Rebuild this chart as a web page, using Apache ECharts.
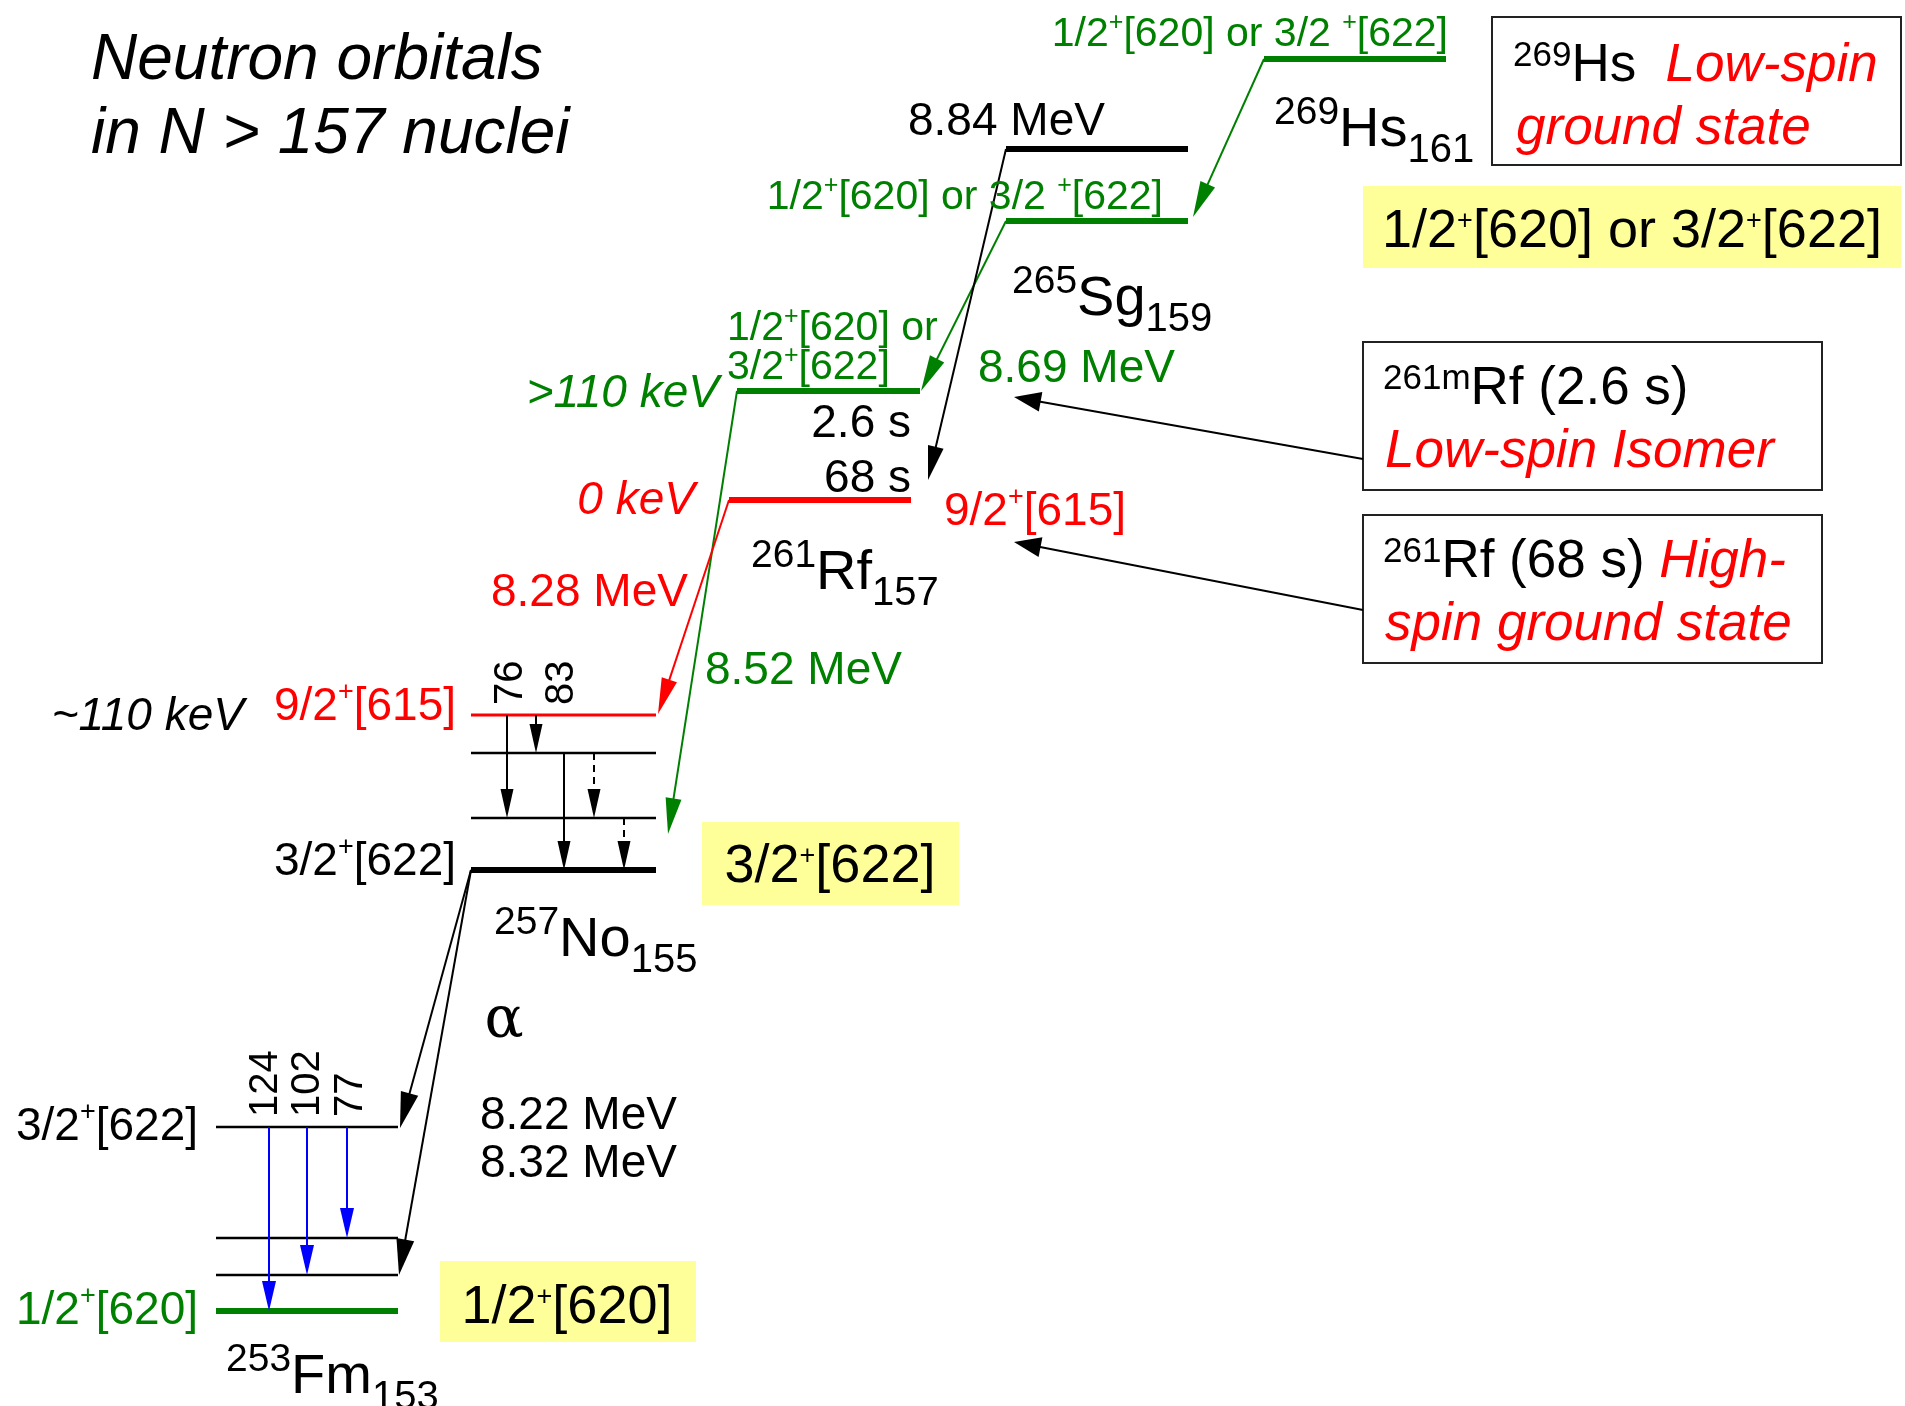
<!DOCTYPE html>
<html><head><meta charset="utf-8">
<script src="https://cdn.jsdelivr.net/npm/echarts@6/dist/echarts.min.js"></script>
<style>html,body{margin:0;padding:0;background:#fff}#c{width:1905px;height:1406px}</style>
</head><body><div id="c"></div>
<script>
// ================= DATA (diagram units: x = horizontal placement, y = vertical placement, downwards) =================
// Nuclear levels
const levelIds   = ['269Hs g.s.','265Sg 8.84','265Sg g.s.','261mRf','261Rf g.s.','257No 9/2+','257No l2','257No l1','257No g.s.','253Fm 3/2+','253Fm l2','253Fm l1','253Fm g.s.'];
const levelX1    = [1264,1006,1006,737,729,471,471,471,471,216,216,216,216];
const levelX2    = [1446,1188,1188,920,911,656,656,656,656,398,398,398,398];
const levelY     = [59,149,221,391,500,715,753,818,870,1127,1238,1275,1311];
const levelKind  = ['gThick','kThick','gThick','gThick','rThick','rThin','kThin','kThin','kThick','kThin','kThin','kThin','gThick'];

// Alpha decays (start point -> arrow tip)
const decayFromX = [1264,1006,1006,737,729,471,471];
const decayFromY = [59,221,149,391,500,870,870];
const decayToX   = [1193,921,928,668,658,400,399];
const decayToY   = [217,391,480,834,714,1128,1275];
const decayKind  = ['green','green','black','green','red','alpha','alpha'];

// Gamma transitions (keV label, x, from y, to y)
const gammaLabel = ['76','83','','','','124','102','77'];
const gammaX     = [507,536,564,594,624,269,307,347];
const gammaY1    = [715,715,753,753,818,1127,1127,1127];
const gammaY2    = [818,753,870,818,870,1311,1275,1238];
const gammaKind  = ['solid','solid','solid','dashed','dashed','blue','blue','blue'];

// Pointer arrows from the note boxes
const pointerFromX = [1363,1363];
const pointerFromY = [459,610];
const pointerToX   = [1014,1014];
const pointerToY   = [397,542];

// Boxes [x1,y1,x2,y2]
const frameBoxes  = [[1492,17,1901,165],[1363,342,1822,490],[1363,515,1822,663]];
const yellowBoxes = [[1363,186,1901,268],[702,822,959,905],[440,1261,696,1342]];

// ================= STYLES =================
const FONT = '"Liberation Sans", Arial, Helvetica, sans-serif';
const SERIF = '"DejaVu Serif", "Liberation Serif", serif';
const GREEN = '#008000', RED = '#ff0000', BLUE = '#0000ff', BLACK = '#000000', YELLOW = '#ffff99';

const levelStyle = {
  gThick: {c: GREEN, w: 6}, kThick: {c: BLACK, w: 6}, rThick: {c: RED, w: 6},
  rThin: {c: RED, w: 3}, kThin: {c: BLACK, w: 2.5}
};
const arrowStyle = {
  green: {c: GREEN, w: 2, L: 36, W: 8},
  red:   {c: RED, w: 2, L: 36, W: 8},
  black: {c: BLACK, w: 2, L: 34, W: 8},
  alpha: {c: BLACK, w: 2, L: 36, W: 9},
  solid: {c: BLACK, w: 2, L: 29, W: 6.5},
  dashed:{c: BLACK, w: 2, L: 29, W: 6.5, dash: [7, 5]},
  blue:  {c: BLUE, w: 2, L: 30, W: 7},
  pointer:{c: BLACK, w: 2, L: 27, W: 10}
};

function mkRich(size, color, o) {
  o = o || {};
  const it = o.italic ? 'italic' : 'normal';
  const fam = o.family || FONT;
  const lh = Math.round(size * 1.3);
  const supSize = o.supSize || Math.round(size * 0.6);
  const supOff = o.supOff != null ? o.supOff : Math.round(size * 0.3);
  const subSize = o.subSize || supSize;
  const subOff = o.subOff != null ? o.subOff : Math.round(size * 0.3);
  const hs = lh - 2 * supOff, hb = lh - 2 * subOff;
  return {
    n: {fontSize: size, fill: color, fontStyle: it, fontFamily: fam, lineHeight: lh},
    p: {fontSize: supSize, fill: color, fontStyle: it, fontFamily: fam, lineHeight: hs, height: hs, verticalAlign: 'top'},
    b: {fontSize: subSize, fill: color, fontStyle: it, fontFamily: fam, lineHeight: hb, height: hb, verticalAlign: 'bottom'},
    r: {fontSize: size, fill: RED, fontStyle: 'italic', fontFamily: fam, lineHeight: lh}
  };
}
const richSets = {
  title: mkRich(64, BLACK, {italic: true}),
  g40: mkRich(41, GREEN, {supSize: 25, supOff: 12}),
  g46: mkRich(46, GREEN, {supSize: 27, supOff: 14}),
  g46i: mkRich(46, GREEN, {italic: true}),
  r46: mkRich(46, RED, {supSize: 27, supOff: 14}),
  r46i: mkRich(46, RED, {italic: true}),
  k46: mkRich(46, BLACK, {supSize: 27, supOff: 14}),
  k46i: mkRich(46, BLACK, {italic: true}),
  k40: mkRich(40, BLACK),
  y54: mkRich(54, BLACK, {supSize: 27, supOff: 10}),
  nuc: mkRich(56, BLACK, {supSize: 39, supOff: 18, subSize: 40, subOff: 20}),
  box: mkRich(53, BLACK, {supSize: 35, supOff: 10}),
  alpha: mkRich(58, BLACK, {family: SERIF})
};

// Text annotations: [x, y, align, style, text, rotationDeg]
const texts = [
  [91, 61, 'left', 'title', '{n|Neutron orbitals}'],
  [91, 135, 'left', 'title', '{n|in N > 157 nuclei}'],
  [1448, 35, 'right', 'g40', '{n|1/2}{p|+}{n|[620] or 3/2 }{p|+}{n|[622]}'],
  [1274, 131, 'left', 'nuc', '{p|269}{n|Hs}{b|161}'],
  [908, 122, 'left', 'k46', '{n|8.84 MeV}'],
  [1163, 198, 'right', 'g40', '{n|1/2}{p|+}{n|[620] or 3/2 }{p|+}{n|[622]}'],
  [1012, 300, 'left', 'nuc', '{p|265}{n|Sg}{b|159}'],
  [978, 369, 'left', 'g46', '{n|8.69 MeV}'],
  [719, 394, 'right', 'g46i', '{n|>110 keV}'],
  [727, 329, 'left', 'g40', '{n|1/2}{p|+}{n|[620] or}'],
  [727, 368, 'left', 'g40', '{n|3/2}{p|+}{n|[622]}'],
  [911, 424, 'right', 'k46', '{n|2.6 s}'],
  [911, 479, 'right', 'k46', '{n|68 s}'],
  [695, 501, 'right', 'r46i', '{n|0 keV}'],
  [944, 512, 'left', 'r46', '{n|9/2}{p|+}{n|[615]}'],
  [751, 574, 'left', 'nuc', '{p|261}{n|Rf}{b|157}'],
  [491, 593, 'left', 'r46', '{n|8.28 MeV}'],
  [705, 671, 'left', 'g46', '{n|8.52 MeV}'],
  [244, 717, 'right', 'k46i', '{n|~110 keV}'],
  [456, 707, 'right', 'r46', '{n|9/2}{p|+}{n|[615]}'],
  [456, 862, 'right', 'k46', '{n|3/2}{p|+}{n|[622]}'],
  [830, 867, 'center', 'y54', '{n|3/2}{p|+}{n|[622]}'],
  [494, 941, 'left', 'nuc', '{p|257}{n|No}{b|155}'],
  [504, 1022, 'center', 'alpha', '{n|α}'],
  [480, 1116, 'left', 'k46', '{n|8.22 MeV}'],
  [480, 1164, 'left', 'k46', '{n|8.32 MeV}'],
  [198, 1127, 'right', 'k46', '{n|3/2}{p|+}{n|[622]}'],
  [198, 1311, 'right', 'g46', '{n|1/2}{p|+}{n|[620]}'],
  [567, 1308, 'center', 'y54', '{n|1/2}{p|+}{n|[620]}'],
  [226, 1378, 'left', 'nuc', '{p|253}{n|Fm}{b|153}'],
  [1513, 66, 'left', 'box', '{p|269}{n|Hs  }{r|Low-spin}'],
  [1516, 129, 'left', 'box', '{r|ground state}'],
  [1632, 232, 'center', 'y54', '{n|1/2}{p|+}{n|[620] or 3/2}{p|+}{n|[622]}'],
  [1383, 389, 'left', 'box', '{p|261m}{n|Rf (2.6 s)}'],
  [1385, 452, 'left', 'box', '{r|Low-spin Isomer}'],
  [1383, 562, 'left', 'box', '{p|261}{n|Rf (68 s) }{r|High-}'],
  [1385, 625, 'left', 'box', '{r|spin ground state}']
];
// gamma energy labels (rotated), anchored at their lower end
const gammaLabelY = [705, 705, 0, 0, 0, 1117, 1117, 1117];
const gammaLabelX = [511, 562, 0, 0, 0, 266, 308, 351];
gammaLabel.forEach(function (g, i) {
  if (g) texts.push([gammaLabelX[i], gammaLabelY[i], 'left', 'k40', '{n|' + g + '}', 90]);
});

// ================= RENDERING =================
function arrowGroup(p1, p2, st) {
  const dx = p2[0] - p1[0], dy = p2[1] - p1[1], len = Math.hypot(dx, dy);
  const ux = dx / len, uy = dy / len, nx = -uy, ny = ux;
  const bx = p2[0] - ux * st.L, by = p2[1] - uy * st.L;
  return {
    type: 'group',
    children: [
      {type: 'line', shape: {x1: p1[0], y1: p1[1], x2: bx + ux * 3, y2: by + uy * 3},
       style: {stroke: st.c, lineWidth: st.w, lineDash: st.dash || null, fill: null}},
      {type: 'polygon', shape: {points: [[p2[0], p2[1]], [bx + nx * st.W, by + ny * st.W], [bx - nx * st.W, by - ny * st.W]]},
       style: {fill: st.c, stroke: null}}
    ]
  };
}

const chart = echarts.init(document.getElementById('c'), null, {renderer: 'canvas'});
chart.setOption({
  animation: false,
  backgroundColor: '#ffffff',
  grid: {left: 0, right: 0, top: 0, bottom: 0},
  xAxis: {type: 'value', min: 0, max: 1905, show: false},
  yAxis: {type: 'value', min: 0, max: 1406, inverse: true, show: false},
  series: [
    { // yellow highlight boxes
      type: 'custom', silent: true,
      data: yellowBoxes,
      renderItem: function (params, api) {
        const a = api.coord([api.value(0), api.value(1)]), b = api.coord([api.value(2), api.value(3)]);
        return {type: 'rect', shape: {x: a[0], y: a[1], width: b[0] - a[0], height: b[1] - a[1]}, style: {fill: YELLOW, stroke: null}};
      }
    },
    { // framed note boxes
      type: 'custom', silent: true,
      data: frameBoxes,
      renderItem: function (params, api) {
        const a = api.coord([api.value(0), api.value(1)]), b = api.coord([api.value(2), api.value(3)]);
        return {type: 'rect', shape: {x: a[0], y: a[1], width: b[0] - a[0], height: b[1] - a[1]}, style: {fill: '#ffffff', stroke: '#222222', lineWidth: 2}};
      }
    },
    { // levels
      type: 'custom', silent: true,
      data: levelIds.map(function (id, i) { return [levelX1[i], levelY[i], levelX2[i], levelY[i]]; }),
      renderItem: function (params, api) {
        const a = api.coord([api.value(0), api.value(1)]), b = api.coord([api.value(2), api.value(3)]);
        const st = levelStyle[levelKind[params.dataIndex]];
        return {type: 'line', shape: {x1: a[0], y1: a[1], x2: b[0], y2: b[1]}, style: {stroke: st.c, lineWidth: st.w, lineCap: 'butt'}};
      }
    },
    { // alpha decays
      type: 'custom', silent: true,
      data: decayKind.map(function (k, i) { return [decayFromX[i], decayFromY[i], decayToX[i], decayToY[i]]; }),
      renderItem: function (params, api) {
        const a = api.coord([api.value(0), api.value(1)]), b = api.coord([api.value(2), api.value(3)]);
        return arrowGroup(a, b, arrowStyle[decayKind[params.dataIndex]]);
      }
    },
    { // gamma transitions
      type: 'custom', silent: true,
      data: gammaKind.map(function (k, i) { return [gammaX[i], gammaY1[i], gammaX[i], gammaY2[i]]; }),
      renderItem: function (params, api) {
        const a = api.coord([api.value(0), api.value(1)]), b = api.coord([api.value(2), api.value(3)]);
        return arrowGroup(a, b, arrowStyle[gammaKind[params.dataIndex]]);
      }
    },
    { // pointers from note boxes
      type: 'custom', silent: true,
      data: pointerFromX.map(function (x, i) { return [pointerFromX[i], pointerFromY[i], pointerToX[i], pointerToY[i]]; }),
      renderItem: function (params, api) {
        const a = api.coord([api.value(0), api.value(1)]), b = api.coord([api.value(2), api.value(3)]);
        return arrowGroup(a, b, arrowStyle.pointer);
      }
    },
    { // texts
      type: 'custom', silent: true,
      data: texts.map(function (t) { return [t[0], t[1]]; }),
      renderItem: function (params, api) {
        const t = texts[params.dataIndex];
        const p = api.coord([api.value(0), api.value(1)]);
        return {
          type: 'text', x: p[0], y: p[1], rotation: (t[5] || 0) * Math.PI / 180,
          style: {legacy: false, text: t[4], rich: richSets[t[3]], align: t[2], verticalAlign: 'middle',
                  fontFamily: FONT, fontSize: 40, fill: BLACK}
        };
      }
    }
  ]
});
</script>
</body></html>
